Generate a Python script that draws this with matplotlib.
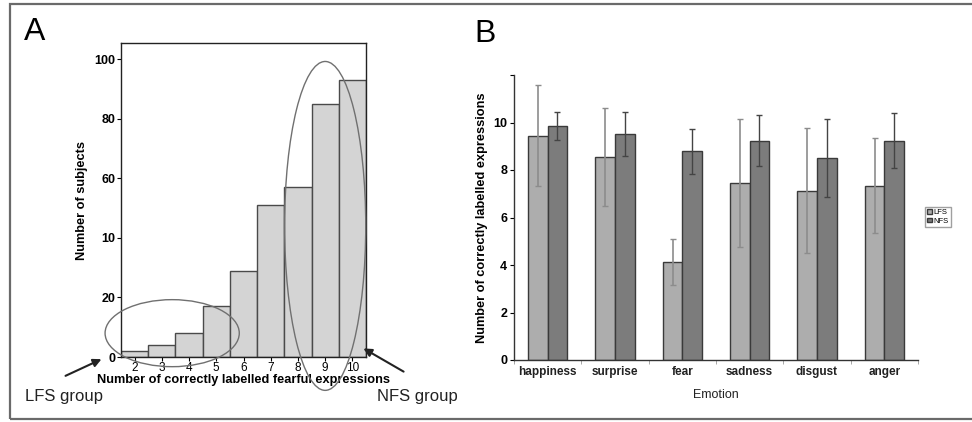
import numpy as np
import matplotlib
matplotlib.use("Agg")
import matplotlib.pyplot as plt
from matplotlib.patches import Ellipse, Rectangle

plt.rcParams['font.family'] = ['Liberation Sans', 'DejaVu Sans']

# panel A: histogram of correctly labelled fearful expressions
scores = [2, 3, 4, 5, 6, 7, 8, 9, 10]
n_subjects = [2, 4, 8, 17, 29, 51, 57, 85, 93]
a_yticks = [0, 20, 40, 60, 80, 100]
a_yticklabels = ["0", "20", "10", "60", "80", "100"]

# panel B: mean (sd) correctly labelled expressions per emotion
emotions = ["happiness", "surprise", "fear", "sadness", "disgust", "anger"]
lfs_mean = [9.44, 8.54, 4.12, 7.45, 7.12, 7.34]
lfs_sd = [2.13, 2.05, 0.96, 2.69, 2.63, 2.01]
nfs_mean = [9.86, 9.51, 8.78, 9.24, 8.49, 9.24]
nfs_sd = [0.58, 0.92, 0.93, 1.09, 1.64, 1.14]

W, H = 972, 422
fig = plt.figure(figsize=(W / 100, H / 100), dpi=100)

def fx(px):
    return px / W

def fy(py):
    return 1 - py / H

# outer frame (open on the right, like the cropped figure)
fig.patches.append(Rectangle((fx(10), fy(419)), 1.2, fy(4) - fy(419),
                             transform=fig.transFigure, fill=False,
                             edgecolor="#6a6a6a", lw=1.6))

# ---------- panel A ----------
axA = fig.add_axes([fx(121), fy(357), fx(366) - fx(121), fy(43) - fy(357)])
axA.bar(scores, n_subjects, width=1.0, color="#d4d4d4", edgecolor="#4a4a4a", lw=1.0)
axA.set_xlim(1.5, 10.5)
axA.set_ylim(0, 105.4)
axA.set_yticks(a_yticks)
axA.set_yticklabels(a_yticklabels, fontsize=9, fontweight="bold")
axA.set_xticks(scores)
axA.set_xticklabels([str(s) for s in scores], fontsize=8.5)
axA.tick_params(axis="x", length=3, pad=0.5, width=0.8)
axA.tick_params(axis="y", length=3, pad=1, width=0.8)
for sp in axA.spines.values():
    sp.set_linewidth(1.0)
    sp.set_color("#222222")
axA.set_xlabel("Number of correctly labelled fearful expressions", fontsize=9.2,
               fontweight="bold", labelpad=0)
axA.set_ylabel("Number of subjects", fontsize=9.2, fontweight="bold", labelpad=5)

axA.add_patch(Ellipse((3.38, 8), 4.93, 22.5, fill=False, edgecolor="#707070",
                      lw=1.0, clip_on=False, zorder=5))
axA.add_patch(Ellipse((9.0, 44), 2.98, 110.4, fill=False, edgecolor="#707070",
                      lw=1.0, clip_on=False, zorder=5))

fig.text(fx(24), fy(32), "A", fontsize=23, ha="left", va="center")
fig.text(fx(25), fy(396), "LFS group", fontsize=12, ha="left", va="center", color="#222222")
fig.text(fx(377), fy(396), "NFS group", fontsize=12, ha="left", va="center", color="#222222")
axA.annotate("", xy=(fx(104), fy(358)), xycoords="figure fraction",
             xytext=(fx(63), fy(377)), textcoords="figure fraction",
             arrowprops=dict(arrowstyle="-|>", color="#222222", lw=1.5, mutation_scale=12))
axA.annotate("", xy=(fx(361), fy(347)), xycoords="figure fraction",
             xytext=(fx(406), fy(373)), textcoords="figure fraction",
             arrowprops=dict(arrowstyle="-|>", color="#222222", lw=1.5, mutation_scale=12))

# ---------- panel B ----------
axB = fig.add_axes([fx(514), fy(360), fx(918) - fx(514), fy(75) - fy(360)])
x = np.arange(len(emotions))
bw = 0.29
axB.bar(x - bw / 2, lfs_mean, width=bw, color="#adadad", edgecolor="#3a3a3a", lw=1.0, label="LFS")
axB.bar(x + bw / 2, nfs_mean, width=bw, color="#7c7c7c", edgecolor="#3a3a3a", lw=1.0, label="NFS")
axB.errorbar(x - bw / 2, lfs_mean, yerr=lfs_sd, fmt="none", ecolor="#8c8c8c",
             elinewidth=1.2, capsize=2, capthick=1.0)
axB.errorbar(x + bw / 2, nfs_mean, yerr=nfs_sd, fmt="none", ecolor="#444444",
             elinewidth=1.0, capsize=2, capthick=1.0)
axB.set_xlim(-0.5, len(emotions) - 0.5)
axB.set_ylim(0, 12)
axB.set_yticks([0, 2, 4, 6, 8, 10, 12])
axB.set_yticklabels(["0", "2", "4", "6", "8", "10", ""], fontsize=9, fontweight="bold")
axB.set_xticks(x)
axB.set_xticklabels(emotions, fontsize=8.5, fontweight="bold", color="#222222")
axB.set_xticks(np.arange(len(emotions) + 1) - 0.5, minor=True)
axB.tick_params(axis="x", which="major", length=0, pad=4)
axB.tick_params(axis="x", which="minor", length=3, color="#999999")
axB.tick_params(axis="y", length=3, pad=2, width=0.8)
axB.spines["top"].set_visible(False)
axB.spines["right"].set_visible(False)
for s in ["left", "bottom"]:
    axB.spines[s].set_color("#333333")
    axB.spines[s].set_linewidth(1.0)
axB.set_xlabel("Emotion", fontsize=9, labelpad=8, color="#222222")
axB.set_ylabel("Number of correctly labelled expressions", fontsize=9.2, fontweight="bold", labelpad=4)
axB.legend(loc="center", bbox_to_anchor=(fx(938), fy(217)), bbox_transform=fig.transFigure,
           fontsize=5.5, handlelength=0.6, handleheight=0.6, handletextpad=0.2,
           borderpad=0.25, labelspacing=0.15, frameon=True, fancybox=False,
           edgecolor="#888888")

fig.text(fx(474), fy(34), "B", fontsize=23, ha="left", va="center")

fig.savefig("out.png", dpi=100)
